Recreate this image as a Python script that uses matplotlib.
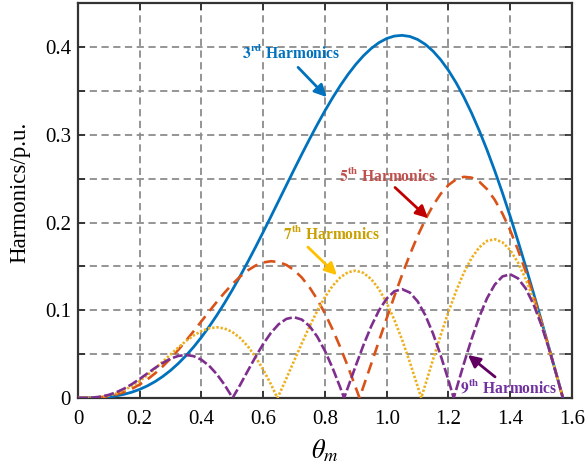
import matplotlib
matplotlib.use("Agg")
import matplotlib.pyplot as plt

plt.rcParams['font.family'] = ['Liberation Serif', 'DejaVu Serif']
plt.rcParams['mathtext.fontset'] = 'stix'

# ---- data ----
theta_3 = [0, 0.025, 0.05, 0.075, 0.10, 0.125, 0.15, 0.175, 0.20, 0.225, 0.25, 0.275,
           0.30, 0.325, 0.35, 0.375, 0.40, 0.425, 0.45, 0.475, 0.50, 0.525, 0.55,
           0.575, 0.60, 0.625, 0.65, 0.675, 0.70, 0.725, 0.75, 0.775, 0.80, 0.825,
           0.85, 0.875, 0.90, 0.925, 0.95, 0.975, 1.00, 1.025, 1.05, 1.075, 1.10,
           1.125, 1.15, 1.175, 1.20, 1.225, 1.25, 1.275, 1.30, 1.325, 1.35, 1.375,
           1.40, 1.425, 1.45, 1.475, 1.50, 1.525, 1.55, 1.5708]
h3 = [0, 0.00002, 0.00016, 0.00053, 0.00126, 0.00245, 0.0042, 0.00662, 0.00979,
      0.01378, 0.01868, 0.02454, 0.03139, 0.03928, 0.04822, 0.05822, 0.06926,
      0.08131, 0.09435, 0.10831, 0.12313, 0.13872, 0.15500, 0.17186, 0.18918,
      0.20682, 0.22467, 0.24256, 0.26036, 0.27791, 0.29505, 0.31162, 0.32746,
      0.34242, 0.35632, 0.36904, 0.38042, 0.39031, 0.39860, 0.40516, 0.40989,
      0.41269, 0.41349, 0.41221, 0.40881, 0.40325, 0.39552, 0.38561, 0.37355,
      0.35937, 0.34312, 0.32486, 0.30470, 0.28271, 0.25903, 0.23378, 0.20710,
      0.17915, 0.15010, 0.12012, 0.08939, 0.05810, 0.02646, 0]

theta_5 = [0, 0.025, 0.05, 0.075, 0.10, 0.125, 0.15, 0.175, 0.20, 0.225, 0.25, 0.275,
           0.30, 0.325, 0.35, 0.375, 0.40, 0.425, 0.45, 0.475, 0.50, 0.525, 0.55,
           0.575, 0.60, 0.625, 0.65, 0.675, 0.70, 0.725, 0.75, 0.775, 0.80, 0.825,
           0.85, 0.875, 0.90, 0.912, 0.925, 0.95, 0.975, 1.00, 1.025, 1.05, 1.075,
           1.10, 1.125, 1.15, 1.175, 1.20, 1.225, 1.25, 1.275, 1.30, 1.325, 1.35,
           1.375, 1.40, 1.425, 1.45, 1.475, 1.50, 1.525, 1.55, 1.5708]
h5 = [0, 0.00003, 0.00026, 0.00088, 0.00207, 0.00401, 0.00675, 0.01050, 0.01528,
      0.02114, 0.02809, 0.03607, 0.04501, 0.05479, 0.06525, 0.07620, 0.08742,
      0.09866, 0.10965, 0.12011, 0.12975, 0.13828, 0.14541, 0.15089, 0.15446,
      0.15589, 0.15502, 0.15168, 0.14579, 0.13729, 0.12618, 0.11251, 0.09641,
      0.07801, 0.05756, 0.03531, 0.01156, 0, 0.01332, 0.03895, 0.06493, 0.09080,
      0.11614, 0.14050, 0.16343, 0.18451, 0.20333, 0.21953, 0.23276, 0.24276,
      0.24927, 0.25214, 0.25125, 0.24655, 0.23808, 0.22590, 0.21018, 0.19115,
      0.16907, 0.14429, 0.11719, 0.08820, 0.05778, 0.02643, 0]

theta_7 = [0, 0.025, 0.05, 0.075, 0.10, 0.125, 0.15, 0.175, 0.20, 0.225, 0.25, 0.275,
           0.30, 0.325, 0.35, 0.375, 0.40, 0.425, 0.45, 0.475, 0.50, 0.525, 0.55,
           0.575, 0.60, 0.625, 0.646, 0.65, 0.675, 0.70, 0.725, 0.75, 0.775, 0.80,
           0.825, 0.85, 0.875, 0.90, 0.925, 0.95, 0.975, 1.00, 1.025, 1.05, 1.075,
           1.10, 1.112, 1.125, 1.15, 1.175, 1.20, 1.225, 1.25, 1.275, 1.30, 1.325,
           1.35, 1.375, 1.40, 1.425, 1.45, 1.475, 1.50, 1.525, 1.55, 1.5708]
h7 = [0, 0.00005, 0.00037, 0.00122, 0.00283, 0.00536, 0.00895, 0.01362, 0.01935,
      0.02603, 0.03348, 0.04143, 0.04958, 0.05754, 0.06493, 0.07133, 0.07631,
      0.07951, 0.08056, 0.07919, 0.07520, 0.06847, 0.05899, 0.04687, 0.03232,
      0.01566, 0, 0.00267, 0.02217, 0.04224, 0.06224, 0.08148, 0.09929, 0.11497,
      0.12791, 0.13755, 0.14342, 0.14515, 0.14253, 0.13545, 0.12400, 0.10838,
      0.08895, 0.06622, 0.04082, 0.01349, 0, 0.01496, 0.04364, 0.07165, 0.09808,
      0.12207, 0.14282, 0.15960, 0.17183, 0.17905, 0.18097, 0.17747, 0.16860,
      0.15458, 0.13582, 0.11287, 0.08643, 0.05730, 0.02638, 0]

theta_9 = [0, 0.025, 0.05, 0.075, 0.10, 0.125, 0.15, 0.175, 0.20, 0.225, 0.25, 0.275,
           0.30, 0.325, 0.35, 0.375, 0.40, 0.425, 0.45, 0.475, 0.501, 0.525, 0.55,
           0.575, 0.60, 0.625, 0.65, 0.675, 0.70, 0.725, 0.75, 0.775, 0.80, 0.825,
           0.85, 0.862, 0.875, 0.90, 0.925, 0.95, 0.975, 1.00, 1.025, 1.05, 1.075,
           1.10, 1.125, 1.15, 1.175, 1.20, 1.217, 1.225, 1.25, 1.275, 1.30, 1.325,
           1.35, 1.375, 1.40, 1.425, 1.45, 1.475, 1.50, 1.525, 1.55, 1.5708]
h9 = [0, 0.00006, 0.00047, 0.00154, 0.00352, 0.00655, 0.01067, 0.01578, 0.02166,
      0.02796, 0.03426, 0.04004, 0.04477, 0.04791, 0.04899, 0.04762, 0.04353,
      0.03664, 0.02702, 0.01493, 0, 0.01468, 0.03081, 0.04672, 0.06148, 0.07420,
      0.08400, 0.09014, 0.09206, 0.08937, 0.08195, 0.06993, 0.05371, 0.03394,
      0.01151, 0, 0.01251, 0.03692, 0.06045, 0.08181, 0.09980, 0.11336, 0.12163,
      0.12401, 0.12019, 0.11021, 0.09441, 0.07347, 0.04836, 0.02029, 0, 0.00936,
      0.03907, 0.06732, 0.09263, 0.11364, 0.12923, 0.13853, 0.14099, 0.13641,
      0.12500, 0.10727, 0.08410, 0.05666, 0.02632, 0]

x_ticks = [0, 0.2, 0.4, 0.6, 0.8, 1.0, 1.2, 1.4, 1.6]
x_ticklabels = ['0', '0.2', '0.4', '0.6', '0.8', '1.0', '1.2', '1.4', '1.6']
y_ticks = [0, 0.05, 0.1, 0.15, 0.2, 0.25, 0.3, 0.35, 0.4]
y_ticklabels = ['0', '', '0.1', '', '0.2', '', '0.3', '', '0.4']

labels = ['3', '5', '7', '9']
suffix = ['rd', 'th', 'th', 'th']

# ---- figure ----
fig = plt.figure(figsize=(5.86, 4.76), dpi=100)
ax = fig.add_axes([0.133, 0.164, 0.843, 0.829])

ax.plot(theta_3, h3, color='#0072BD', lw=2.0, ls='-', zorder=3)
ax.plot(theta_5, h5, color='#D95319', lw=1.9, ls=(0, (4.4, 2.6)), zorder=3)
ax.plot(theta_7, h7, color='#EDB120', lw=1.9, ls=(0, (0.9, 0.7)), zorder=3)
ax.plot(theta_9, h9, color='#7E2F8E', lw=1.9, ls=(0, (3.8, 1.2)), zorder=3)

ax.set_xlim(0, 1.6)
ax.set_ylim(0, 0.45)
ax.set_xticks(x_ticks)
ax.set_xticklabels(x_ticklabels)
ax.set_yticks(y_ticks)
ax.set_yticklabels(y_ticklabels)
ax.tick_params(direction='in', length=5, width=1.2, colors='#262626',
               labelsize=15, top=True, right=True)
ax.tick_params(axis='x', pad=9)
ax.tick_params(axis='y', pad=5)
for lab in ax.get_xticklabels() + ax.get_yticklabels():
    lab.set_color('black')
ax.grid(True, color='#8c8c8c', ls=(0, (4, 2.5)), lw=1.3, zorder=0)
for sp in ax.spines.values():
    sp.set_linewidth(1.6)
    sp.set_color('#333333')

ax.set_ylabel('Harmonics/p.u.', fontsize=16.5)
ax.yaxis.set_label_coords(-0.097, 0.52)
ax.set_xlabel(r'$\theta_m$', fontsize=19, labelpad=6)

def lab(i):
    return r'$\mathbf{%s^{%s}}$ Harmonics' % (labels[i], suffix[i])

ann = [
    (0, (0.690, 0.392), (0.713, 0.377), (0.806, 0.343), '#0072BD', '#0072BD'),
    (1, (1.004, 0.252), (1.027, 0.240), (1.134, 0.205), '#C0504D', '#C00000'),
    (2, (0.823, 0.186), (0.745, 0.172), (0.839, 0.140), '#C9A000', '#FFC000'),
    (3, (1.396, 0.012), (1.351, 0.024), (1.263, 0.049), '#7030A0', '#600060'),
]
for i, tpos, tail, head, tcol, acol in ann:
    ax.text(tpos[0], tpos[1], lab(i), color=tcol, fontsize=11.2, fontweight='bold',
            ha='center', va='center', zorder=5)
    ax.annotate('', xy=head, xytext=tail,
                arrowprops=dict(arrowstyle='-|>', color=acol, lw=2.0,
                                mutation_scale=18, shrinkA=0, shrinkB=0), zorder=5)

fig.savefig('out.png', dpi=100)
